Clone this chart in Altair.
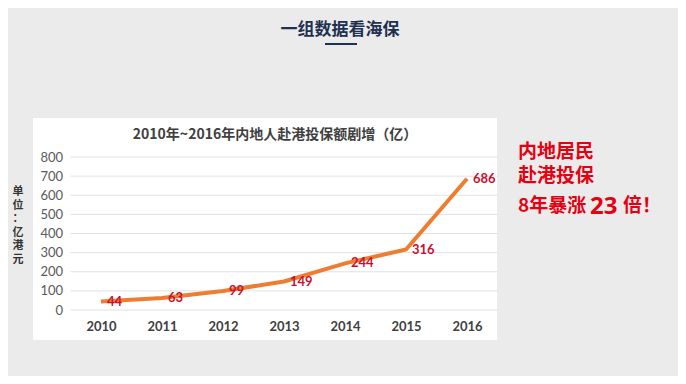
import altair as alt
import pandas as pd

years = ["2010", "2011", "2012", "2013", "2014", "2015", "2016"]
values = [44, 63, 99, 149, 244, 316, 686]
y_ticks = [0, 100, 200, 300, 400, 500, 600, 700, 800]

page_title = "一组数据看海保"
chart_title = "2010年~2016年内地人赴港投保额剧增（亿）"
unit_label = ["单", "位", "：", "亿", "港", "元"]
side_line1 = "内地居民"
side_line2 = "赴港投保"
side_line3a = "8年暴涨"
side_line3b = "23"
side_line3c = "倍！"

df = pd.DataFrame({"year": years, "value": values})
ticks_df = pd.DataFrame({"value": y_ticks})
one = pd.DataFrame({"k": [0]})

W, H = 427, 153
CJK = "Noto Sans CJK SC"
NUM = "Lato"

x_enc = alt.X(
    "year:O", sort=years,
    scale=alt.Scale(type="point", padding=0.5),
    axis=alt.Axis(title=None, labelAngle=0, labelFont=NUM, labelFontSize=13,
                  labelFontWeight="bold", labelColor="#404040", labelPadding=10,
                  ticks=False, domain=False, grid=False, zindex=1),
)
y_enc = alt.Y(
    "value:Q",
    scale=alt.Scale(domain=[0, 800], nice=False, zero=True),
    axis=alt.Axis(title=None, values=y_ticks, grid=False, ticks=False, domain=False,
                  labelFont=NUM, labelFontSize=13, labelColor="#595959",
                  labelPadding=8, zindex=1),
)

box = alt.Chart(one).mark_rect(color="white").encode(
    x=alt.value(-37.5), x2=alt.value(426.5), y=alt.value(-39), y2=alt.value(183)
)

grid = alt.Chart(ticks_df).mark_rule(color="#e2e2e2", strokeWidth=1).encode(
    y=y_enc, x=alt.value(0), x2=alt.value(W)
)

line = alt.Chart(df).mark_line(color="#ed7d31", strokeWidth=4).encode(x=x_enc, y=y_enc)

labels = alt.Chart(df).mark_text(
    align="left", baseline="middle", dx=6, font=NUM, fontSize=13,
    fontWeight="bold", color="#c8102e",
).encode(x=x_enc, y=y_enc, text="value:Q")

def txt(text, x, y, size, color, align="center", baseline="middle", font=CJK, weight="bold", lh=None):
    kw = dict(text=text, align=align, baseline=baseline, font=font, fontSize=size,
              fontWeight=weight, color=color)
    if lh is not None:
        kw["lineHeight"] = lh
    return alt.Chart(one).mark_text(**kw).encode(x=alt.value(x), y=alt.value(y))

t_page = txt(page_title, 269.5, -127, 17, "#1f3050")
underline = alt.Chart(one).mark_rule(color="#1f3050", strokeWidth=2).encode(
    x=alt.value(254.5), x2=alt.value(286.5), y=alt.value(-113)
)
t_chart = txt(chart_title, 204.5, -22, 14, "#404040")
t_unit = txt(unit_label, -52.5, 29, 11, "#333333", baseline="top", lh=13.5)

RED = "#e60012"
s1 = txt(side_line1, 447.5, -5, 19, RED, align="left")
s2 = txt(side_line2, 447.5, 19, 19, RED, align="left")
s3a = txt(side_line3a, 447.5, 55, 19, RED, align="left", baseline="alphabetic")
s3b = txt(side_line3b, 519.5, 57, 24, RED, align="left", baseline="alphabetic", font="Open Sans")
s3c = txt(side_line3c, 552.5, 55, 19, RED, align="left", baseline="alphabetic")

chart = alt.layer(
    box, grid, line, labels, t_page, underline, t_chart, t_unit, s1, s2, s3a, s3b, s3c
).properties(
    width=W, height=H,
    autosize=alt.AutoSizeParams(type="none"),
    padding={"left": 62.5, "top": 149, "right": 180.5, "bottom": 66},
    background="#ebebeb",
).configure_view(stroke=None)

chart.save("out.html", embed_options={"renderer": "svg", "actions": False})
